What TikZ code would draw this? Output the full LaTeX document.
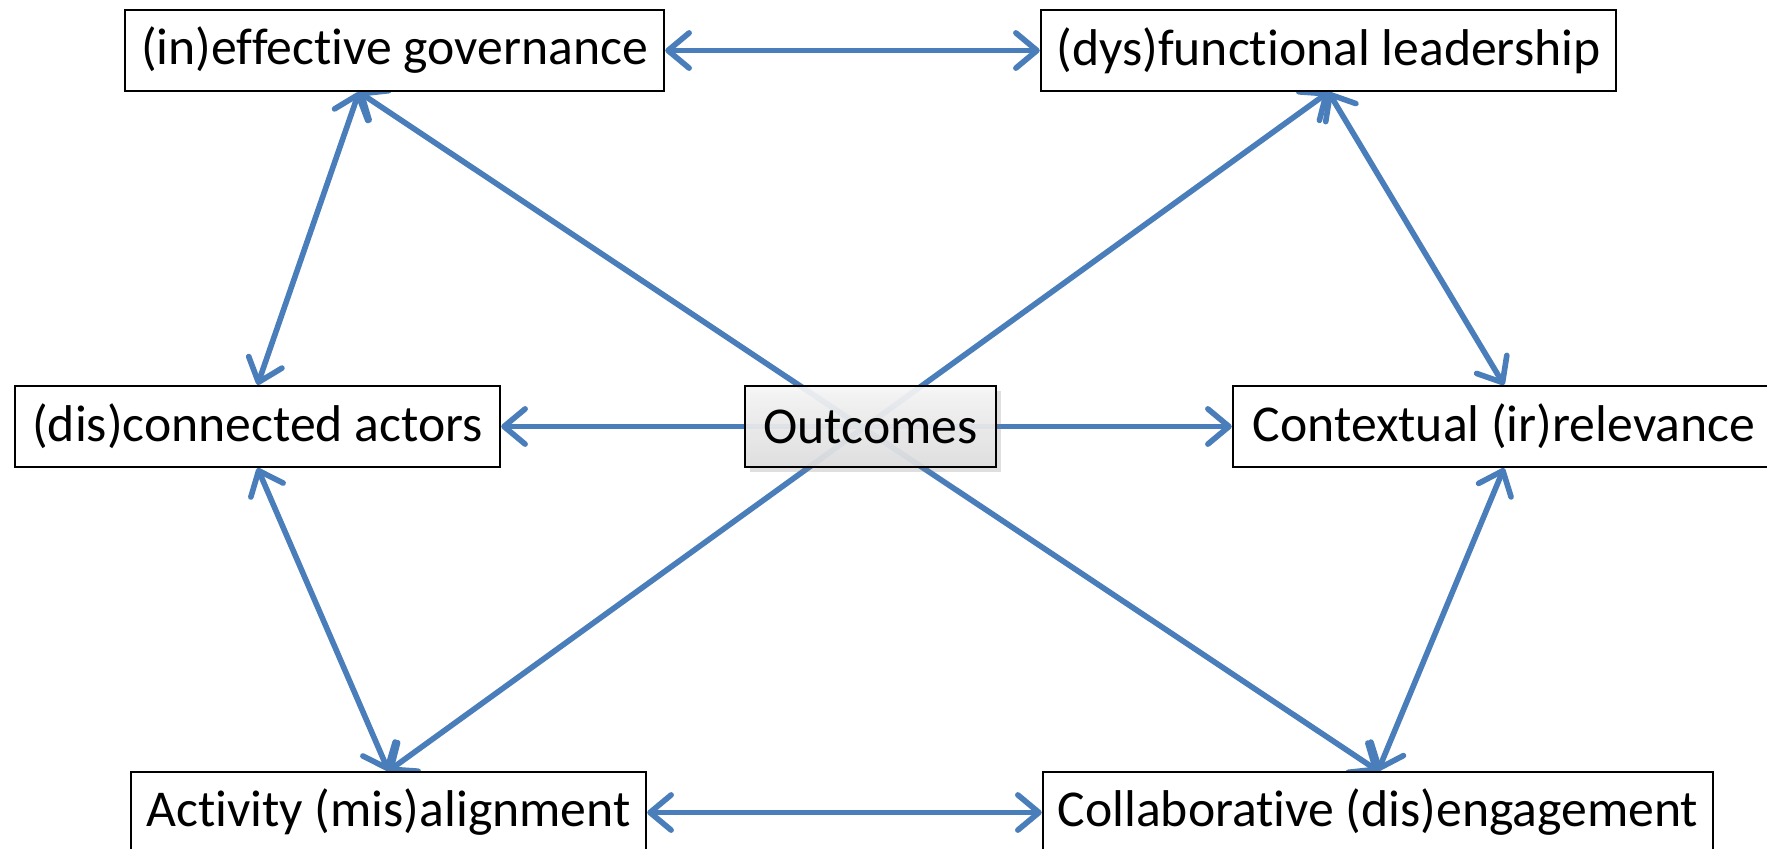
\documentclass[tikz,border=0pt]{standalone}
\usepackage{fontspec}
\setmainfont{Carlito}[Ligatures=NoCommon]
\usepackage{tikz}
\usetikzlibrary{positioning,arrows.meta,backgrounds,shadows}
\definecolor{linkblue}{RGB}{74,126,187}

\begin{document}
\begin{tikzpicture}[x=0.01cm,y=-0.01cm,
		box/.style={draw=black,line width=0.6pt,fill=white,minimum height=0.81cm,inner sep=0pt,
			font=\fontsize{14.7pt}{17pt}\selectfont},
		tip/.tip={Straight Barb[length=6pt,width=10pt,round]},
		link/.style={draw=linkblue,line width=1.6pt,line cap=round,tip-tip},
		oneway/.style={draw=linkblue,line width=1.6pt,line cap=round,-tip}]
		\useasboundingbox (0,0) rectangle (1767,848);

		\node[box,minimum width=5.39cm] (gov) at (394.5,50.5) {(in)effective governance};
		\node[box,minimum width=5.75cm] (lead) at (1328.5,50.5) {(dys)functional leadership};
		\node[box,minimum width=4.85cm] (actors) at (257.5,426.5) {(dis)connected actors};
		\node[box,minimum width=5.42cm] (context) at (1504,426.5) {Contextual (ir)relevance};
		\node[box,minimum width=5.15cm] (activity) at (388.5,812.5) {Activity (mis)alignment};
		\node[box,minimum width=6.70cm] (collab) at (1378,812.5) {Collaborative (dis)engagement};
		\node[box,minimum width=2.51cm,top color=white!96!black,bottom color=white!84!black,
			fill opacity=0.72,text opacity=1,draw opacity=1,
			drop shadow={opacity=0.25,shadow xshift=1.5pt,shadow yshift=-1.5pt}] (outcomes) at (870.5,426.5) {Outcomes};

		\begin{scope}[on background layer]
			\draw[link] (gov) -- (lead);
			\draw[link] (activity) -- (collab);
			\draw[link] ([xshift=-0.355cm]gov.south) -- (actors.north);
			\draw[link] (actors.south) -- (activity.north);
			\draw[link] (collab.north) -- (context.south);
			\draw[link] (context.north) -- (lead.south);
			\draw[link] ([xshift=-0.355cm]gov.south) -- (collab.north);
			\draw[link] (lead.south) -- (activity.north);
			\draw[oneway] (outcomes.center) -- (actors);
			\draw[oneway] (outcomes.center) -- (context);
		\end{scope}
\end{tikzpicture}
\end{document}
